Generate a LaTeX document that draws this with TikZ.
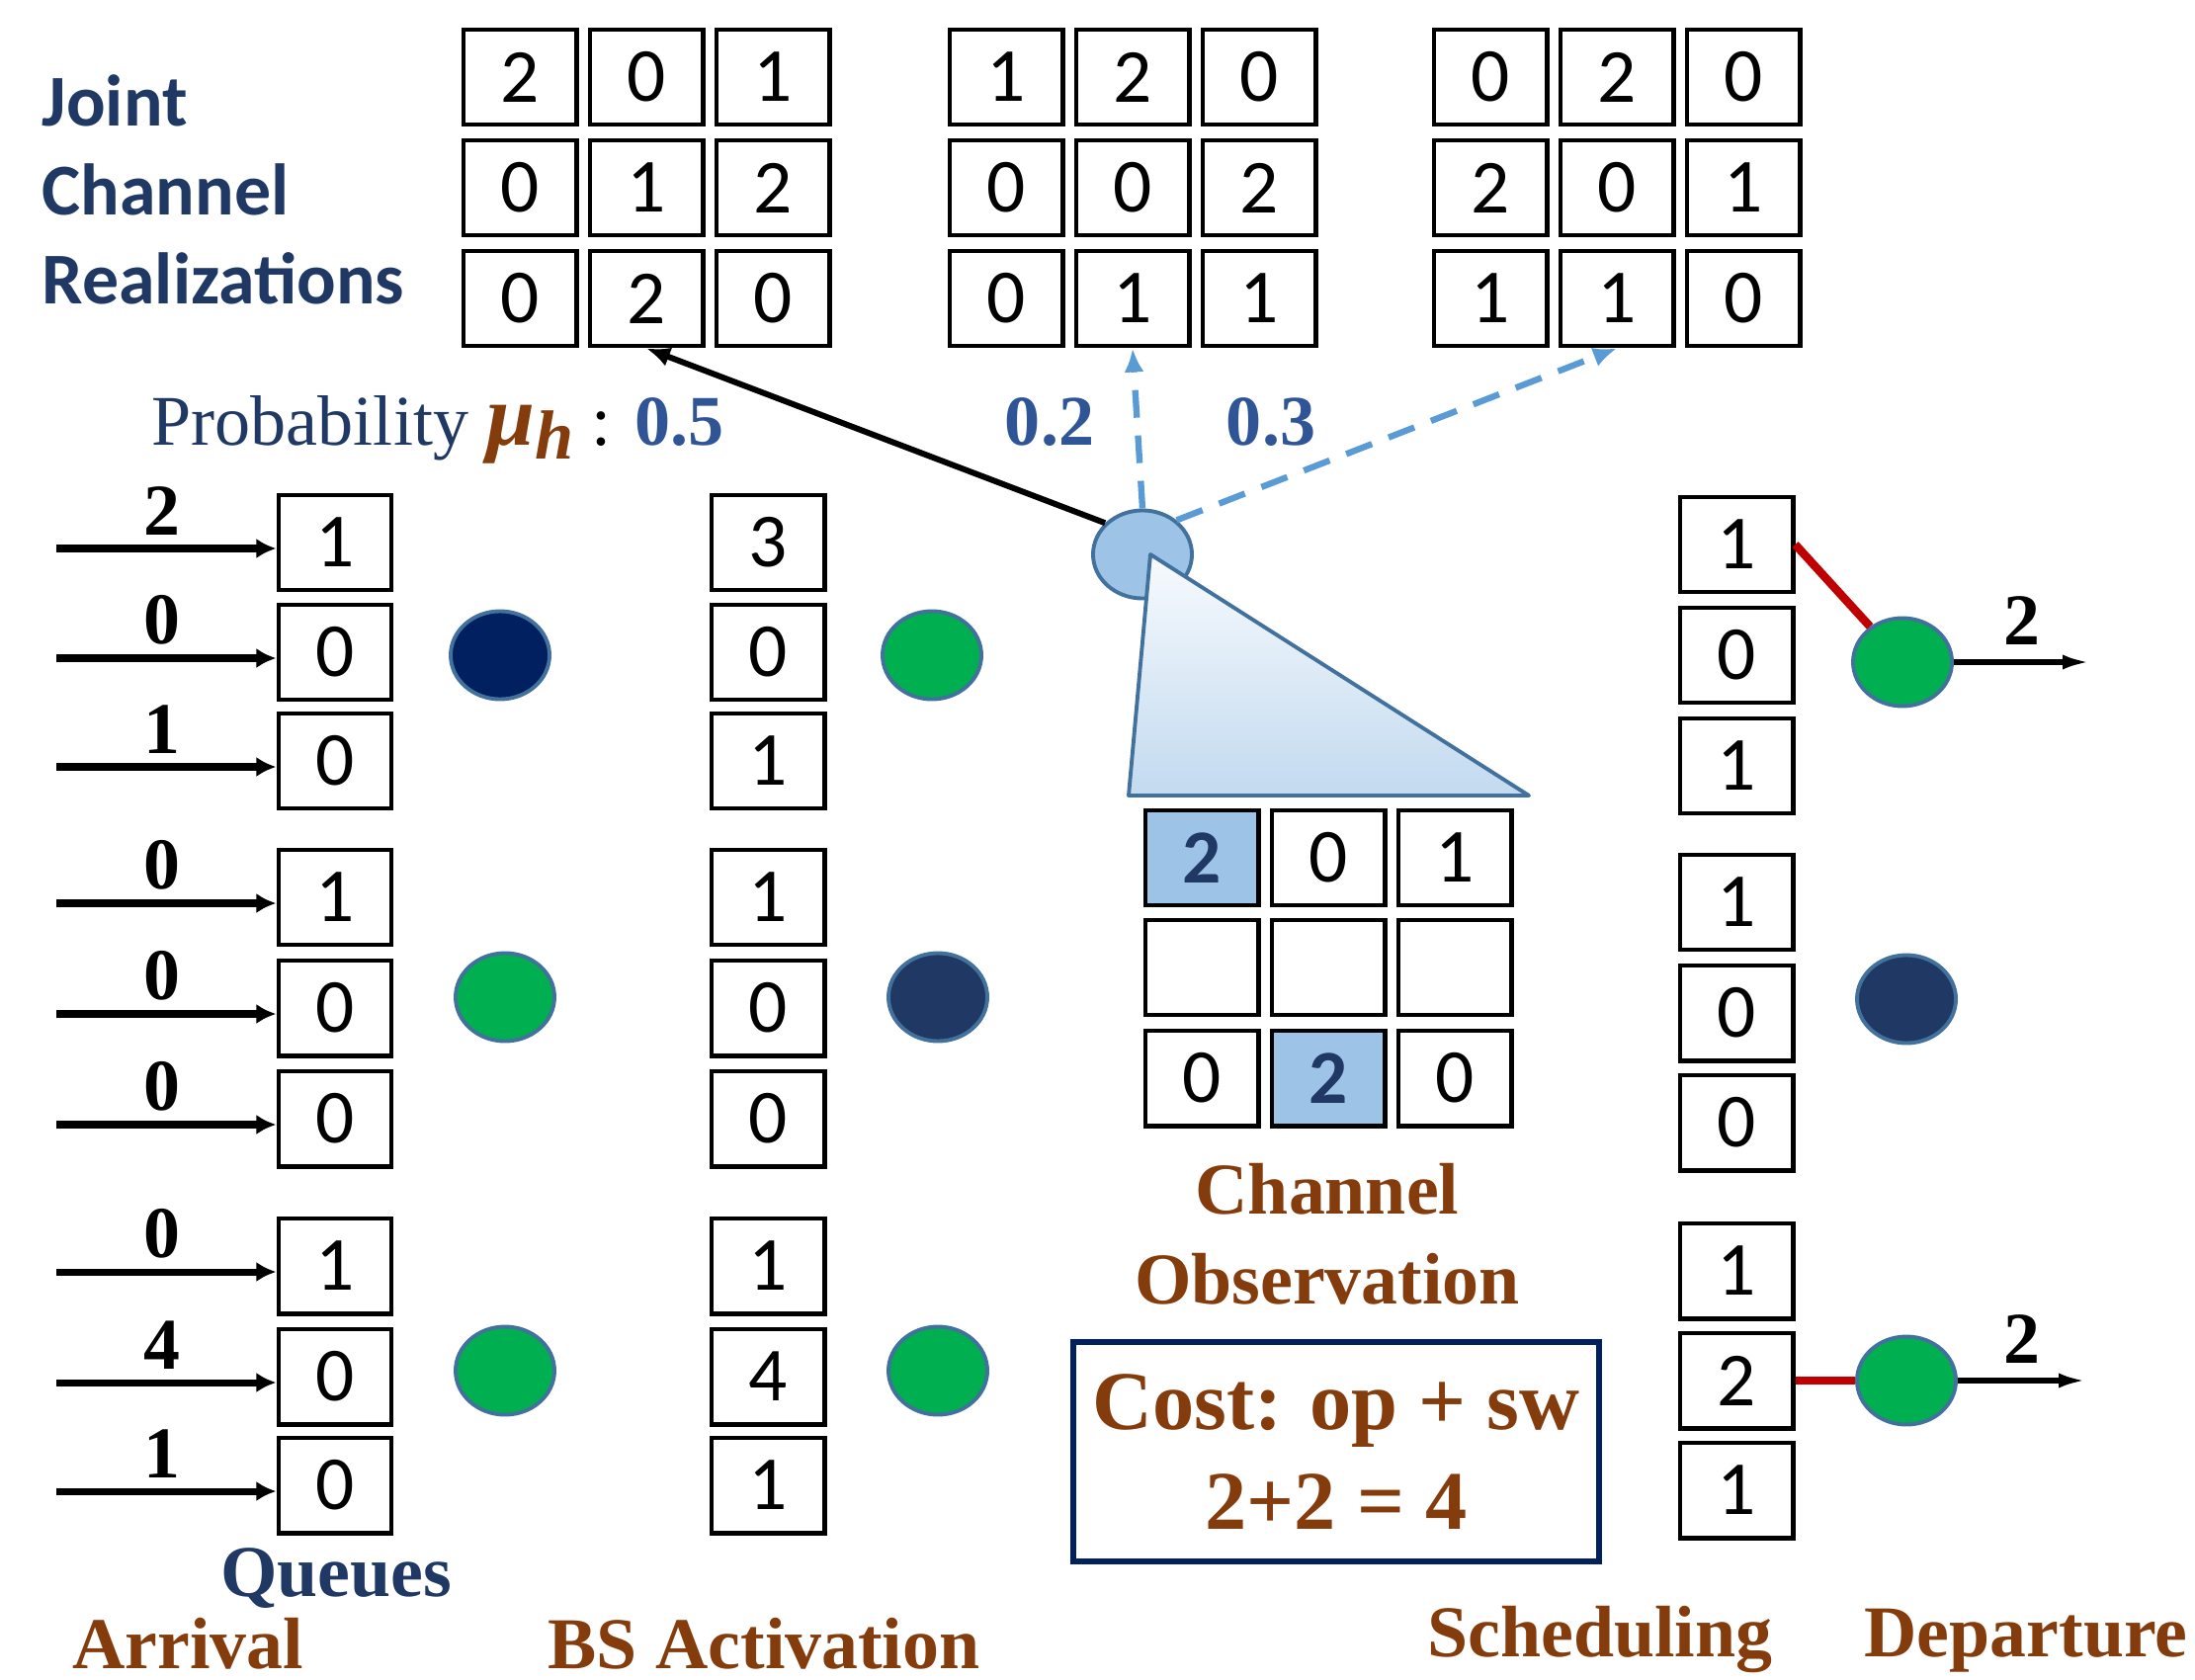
\documentclass[tikz,border=0pt]{standalone}
\usepackage{fontspec}
\setmainfont{Liberation Serif}
\newfontfamily\calfont{Carlito}
\usetikzlibrary{positioning}
\usetikzlibrary{shapes.geometric}
\usetikzlibrary{arrows.meta}

\definecolor{marron}{HTML}{843C0C}
\definecolor{marino}{HTML}{1F3864}
\definecolor{azulnum}{HTML}{2F5597}
\definecolor{azulclaro}{HTML}{9DC3E6}
\definecolor{borde}{HTML}{41719C}
\definecolor{verde}{HTML}{00B050}
\definecolor{oscuro}{HTML}{002060}
\definecolor{oscurob}{HTML}{203864}
\definecolor{rojo}{HTML}{C00000}
\definecolor{guion}{HTML}{5B9BD5}

\begin{document}
\begin{tikzpicture}[x=0.01cm, y=-0.01cm,
    cell/.style={draw, line width=1.4pt, minimum width=1.14cm, minimum height=0.96cm, inner sep=0pt, font=\calfont\fontsize{22}{26}\selectfont},
    sel/.style={fill=azulclaro, text=marino, font=\calfont\bfseries\fontsize{22}{26}\selectfont},
    usuario/.style={ellipse, draw=borde, line width=1.1pt, minimum width=1cm, minimum height=0.89cm},
    rotulo/.style={text=marron, inner sep=0pt, font=\bfseries\fontsize{21}{26}\selectfont},
    etiq/.style={inner sep=0pt, font=\bfseries\fontsize{21}{24}\selectfont},
    llegada/.style={line width=2pt, -{Latex[length=0.2cm, width=0.2cm]}},
    salida/.style={line width=1.5pt, -{Latex[length=0.28cm, width=0.15cm]}},
    enlace/.style={rojo, line width=2.4pt},
    discont/.style={guion, line width=1.8pt, dash pattern=on 0.28cm off 0.18cm, -{Latex[length=0.24cm, width=0.2cm]}},
    num/.style={anchor=base, inner sep=0pt, text=azulnum, font=\bfseries\fontsize{20.5}{24}\selectfont}]
  \useasboundingbox (0,0) rectangle (2221,1700);

  % Realizaciones del canal
  \foreach \m/\mx/\filas in {1/526/{{2,0,1},{0,1,2},{0,2,0}}, 2/1018/{{1,2,0},{0,0,2},{0,1,1}}, 3/1508/{{0,2,0},{2,0,1},{1,1,0}}}
    \foreach \fila [count=\r] in \filas
      \foreach \v [count=\c] in \fila
        \node[cell] (m\m\r\c) at ({\mx+128*(\c-1)}, {78+112*(\r-1)}) {\v};

  \node[anchor=west, align=left, inner sep=0pt, text=marino, font=\calfont\bfseries\fontsize{21}{25.5}\selectfont] (titulo) at (42,192) {Joint\\Channel\\Realizations};
  \node[anchor=base west, inner sep=0pt, font=\fontsize{20.5}{24}\selectfont] (prob) at (153,450)
    {\textcolor{marino}{Probability} \textcolor{marron}{\bfseries\itshape{\fontsize{25}{26}\selectfont μ}\raisebox{-0.45ex}{\fontsize{20}{22}\selectfont h}} : \textcolor{azulnum}{\bfseries 0.5}};
  \node[num] (p2) at (1062,450) {0.2};
  \node[num] (p3) at (1286,450) {0.3};

  % Colas, activacion y planificacion
  \foreach \i/\y/\v in {1/549/1, 2/660/0, 3/770/0, 4/908/1, 5/1020/0, 6/1132/0, 7/1281/1, 8/1393/0, 9/1503/0}
    \node[cell] (q\i) at (339,\y) {\v};
  \foreach \i/\y/\v in {1/549/3, 2/660/0, 3/770/1, 4/908/1, 5/1020/0, 6/1132/0, 7/1281/1, 8/1393/4, 9/1503/1}
    \node[cell] (b\i) at (777,\y) {\v};
  \foreach \i/\y/\v in {1/551/1, 2/663/0, 3/775/1, 4/913/1, 5/1025/0, 6/1136/0, 7/1286/1, 8/1397/2, 9/1508/1}
    \node[cell] (s\i) at (1757,\y) {\v};

  \node[usuario, fill=oscuro] (u1) at (506,663) {};
  \node[usuario, fill=verde] (u2) at (511,1009) {};
  \node[usuario, fill=verde] (u3) at (511,1387) {};
  \node[usuario, fill=verde] (a1) at (943,663) {};
  \node[usuario, fill=oscurob] (a2) at (949,1009) {};
  \node[usuario, fill=verde] (a3) at (949,1387) {};
  \node[usuario, fill=verde] (d1) at (1925,670) {};
  \node[usuario, fill=oscurob] (d2) at (1929,1011) {};
  \node[usuario, fill=verde] (d3) at (1929,1397) {};

  % Llegadas
  \foreach \i/\a in {1/2, 2/0, 3/1, 4/0, 5/0, 6/0, 7/0, 8/4, 9/1}{
    \coordinate (in\i) at ([xshift=-2.22cm, yshift=-0.06cm]q\i.west);
    \draw[llegada] (in\i) -- node[etiq, above=0.1cm, xshift=-0.04cm] {\a} ([yshift=-0.06cm]q\i.west);
  }

  % Salidas
  \coordinate (out1) at (2115,670);
  \coordinate (out3) at (2111,1397);
  \draw[enlace] (s1.east) -- (d1);
  \draw[enlace] (s8.east) -- (d3);
  \draw[salida] (d1) -- node[etiq, above=0.15cm] {2} (out1);
  \draw[salida] (d3) -- node[etiq, above=0.15cm] {2} (out3);

  % Observacion del canal
  \node[usuario, fill=azulclaro] (bs) at (1156,561) {};
  \draw[line width=1.7pt, -{Latex[length=0.24cm, width=0.2cm]}] (bs.140) -- (m132.south);
  \draw[discont] (bs.north) -- (m232.south);
  \draw[discont] (bs.45) -- (m332.south);
  \coordinate (t1) at (1164,561);
  \coordinate (t2) at (1142,805);
  \coordinate (t3) at (1547,805);
  \shadedraw[draw=borde, line width=1.1pt, line join=round, top color=azulclaro!8!white, middle color=azulclaro!72!white, bottom color=azulclaro!62!white] (t1) -- (t2) -- (t3) -- cycle;

  \node[cell, sel] (o11) at (1216,868) {2};
  \node[cell] (o12) at (1344,868) {0};
  \node[cell] (o13) at (1472,868) {1};
  \node[cell] (o21) at (1216,979) {};
  \node[cell] (o22) at (1344,979) {};
  \node[cell] (o23) at (1472,979) {};
  \node[cell] (o31) at (1216,1091) {0};
  \node[cell, sel] (o32) at (1344,1091) {2};
  \node[cell] (o33) at (1472,1091) {0};

  \node[rotulo, align=center] (obs) at (1343,1249) {Channel\\Observation};
  \node[draw=oscuro, line width=1.6pt, minimum width=5.32cm, minimum height=2.22cm, align=center, text=marron,
    font=\bfseries\fontsize{24}{28.5}\selectfont] (costo) at (1352,1469) {Cost: op + sw\\2+2 = 4};

  % Rotulos
  \node[rotulo, anchor=base, text=marino] (colas) at (340,1615) {Queues};
  \node[rotulo, anchor=base] (llega) at (190,1688) {Arrival};
  \node[rotulo, anchor=base] (activ) at (773,1688) {BS Activation};
  \node[rotulo, anchor=base] (plan) at (1619,1676) {Scheduling};
  \node[rotulo, anchor=base] (parte) at (2050,1676) {Departure};
\end{tikzpicture}
\end{document}
